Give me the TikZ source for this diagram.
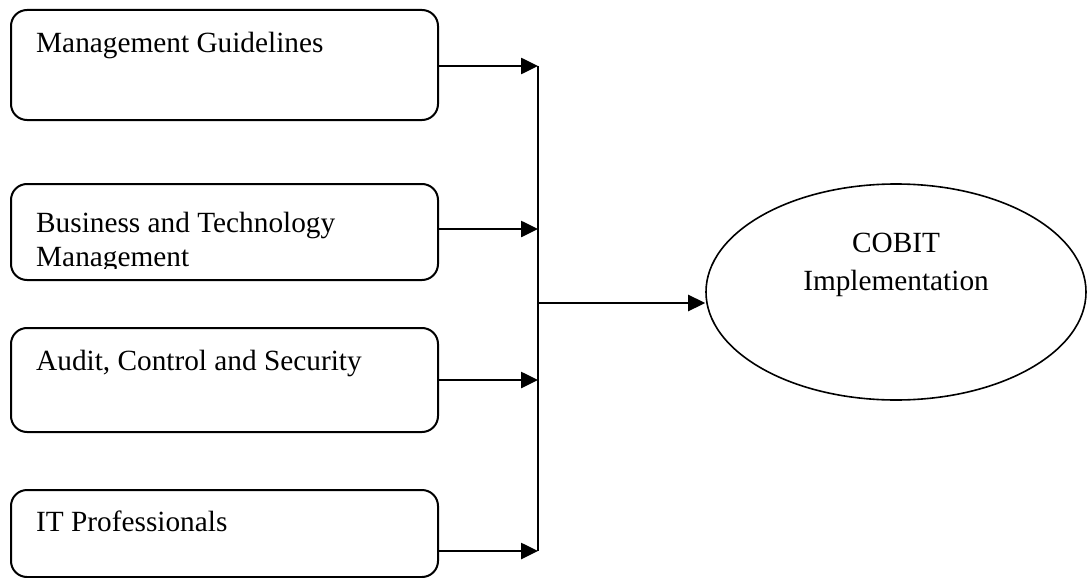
\documentclass[tikz,border=0pt]{standalone}
\usepackage{fontspec}
\setmainfont{Liberation Serif}
\usetikzlibrary{arrows.meta,shapes.geometric}
\begin{document}
\begin{tikzpicture}
[x=1pt,y=-1pt, b/.style={draw,rounded corners=16pt,line width=2pt,inner sep=0pt,minimum width=427pt},
t/.style={anchor=base west,align=left,inner sep=0pt,font=\fontsize{29.3}{34}\selectfont},
ar/.style={line width=2.6pt,-{Triangle[length=17pt,width=16pt]}}]
\useasboundingbox (0,0) rectangle (1087,578);
\node(mg) at (224.5,65)[b,minimum height=110pt]{};\node(bt) at (224.5,232)[b,minimum height=96pt]{};
\node(ac) at (224.5,380)[b,minimum height=104pt]{};\node(it) at (224.5,533.5)[b,minimum height=87pt]{};
\node(mgt) at (36,53)[t]{Management Guidelines};
\begin{scope}\clip (20,190) rectangle (430,268);
\node(btt) at (36,266)[t]{Business and Technology\\Management};\end{scope}
\node(act) at (36,370)[t]{Audit, Control and Security};\node(itt) at (36,531)[t]{IT Professionals};
\node(co) at (896,292)[ellipse,draw,line width=1.6pt,inner sep=0pt,minimum width=380pt,minimum height=216pt]{};
\node(cot) at (896,290)[anchor=base,align=center,inner sep=0pt,font=\fontsize{29.3}{38}\selectfont]{COBIT\\Implementation};
\coordinate(j1) at (538,66);\coordinate(j2) at (538,229);\coordinate(j3) at (538,380);
\coordinate(j4) at (538,551);\coordinate(jm) at (538,303);
\draw[line width=2.4pt](j1)--(j4);
\draw[ar](mg.east|-j1)--(j1);\draw[ar](bt.east|-j2)--(j2);\draw[ar](ac.east|-j3)--(j3);\draw[ar](it.east|-j4)--(j4);
\draw[ar](jm)--(jm-|co.west);
\end{tikzpicture}
\end{document}
